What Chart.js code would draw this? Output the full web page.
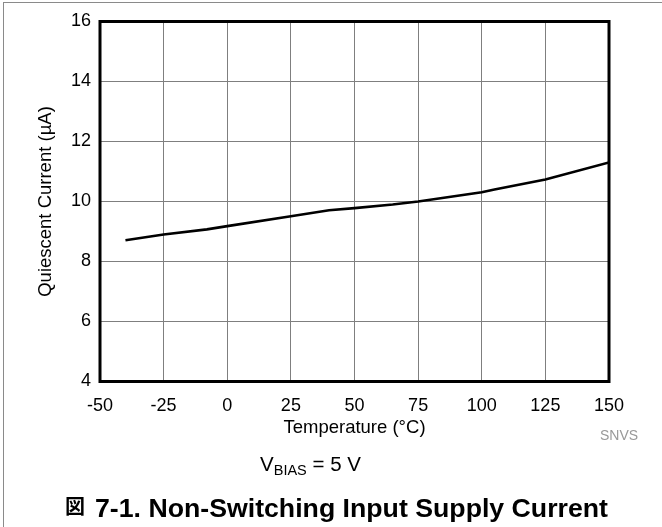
<!DOCTYPE html>
<html>
<head>
<meta charset="utf-8">
<script src="https://cdn.jsdelivr.net/npm/chart.js@4/dist/chart.umd.min.js"></script>
<style>
  html, body { margin: 0; padding: 0; background: #fff; }
  #wrap { position: relative; width: 662px; height: 527px; }
</style>
</head>
<body>
<div id="wrap"><canvas id="c" width="662" height="527"></canvas></div>
<script>
// ---- data ----
const temperatures = [-40, -25, -8, 0, 25, 40, 50, 65, 75, 100, 105, 125, 150];
const currents = [8.71, 8.90, 9.07, 9.18, 9.51, 9.71, 9.78, 9.90, 10.0, 10.31, 10.40, 10.73, 11.30];
const xTicks = [-50, -25, 0, 25, 50, 75, 100, 125, 150];
const yTicks = [4, 6, 8, 10, 12, 14, 16];
const xTitle = 'Temperature (°C)';
const yTitle = 'Quiescent Current (µA)';
const figLabel = '図';
const figTitle = '7-1. Non-Switching Input Supply Current';
const noteText = 'SNVS';

const FONT = '"Liberation Sans", Arial, Helvetica, sans-serif';
Chart.defaults.font.family = FONT;
Chart.defaults.color = '#000';

const points = temperatures.map((t, i) => ({ x: t, y: currents[i] }));

const extras = {
  id: 'extras',
  beforeDraw(chart) {
    const ctx = chart.ctx;
    ctx.save();
    ctx.fillStyle = '#fff';
    ctx.fillRect(0, 0, chart.width, chart.height);
    // outer gray frame
    ctx.strokeStyle = '#8a8a8a';
    ctx.lineWidth = 1;
    ctx.strokeRect(3.5, 2.5, chart.width + 10, chart.height + 10);
    ctx.restore();
  },
  afterDraw(chart) {
    const ctx = chart.ctx;
    const a = chart.chartArea;
    ctx.save();
    // plot frame
    ctx.strokeStyle = '#000';
    ctx.lineWidth = 3;
    ctx.strokeRect(a.left, a.top, a.right - a.left, a.bottom - a.top);

    // x title
    ctx.fillStyle = '#000';
    ctx.font = '18.5px ' + FONT;
    ctx.textAlign = 'center';
    ctx.textBaseline = 'alphabetic';
    ctx.fillText(xTitle, (a.left + a.right) / 2, 433);

    // y title
    ctx.save();
    ctx.translate(51, (a.top + a.bottom) / 2);
    ctx.rotate(-Math.PI / 2);
    ctx.textAlign = 'center';
    ctx.textBaseline = 'alphabetic';
    ctx.font = '18.5px ' + FONT;
    ctx.fillText(yTitle, 0, 0);
    ctx.restore();

    // SNVS note
    ctx.fillStyle = '#999';
    ctx.font = '14px ' + FONT;
    ctx.textAlign = 'center';
    ctx.fillText(noteText, 619, 440);

    // V_BIAS = 5 V
    ctx.fillStyle = '#000';
    ctx.textAlign = 'left';
    const big = '20.5px ' + FONT, small = '14.5px ' + FONT;
    ctx.font = big; const wV = ctx.measureText('V').width;
    ctx.font = small; const wB = ctx.measureText('BIAS').width;
    ctx.font = big; const wR = ctx.measureText(' = 5 V').width;
    let x0 = 310.5 - (wV + wB + wR) / 2;
    ctx.font = big; ctx.fillText('V', x0, 471);
    ctx.font = small; ctx.fillText('BIAS', x0 + wV, 475);
    ctx.font = big; ctx.fillText(' = 5 V', x0 + wV + wB, 471);

    // figure title
    ctx.font = 'bold 20px "Noto Sans CJK JP", ' + FONT;
    ctx.fillText(figLabel, 65, 514);
    ctx.font = 'bold 26.7px ' + FONT;
    ctx.fillText(figTitle, 95, 517);
    ctx.restore();
  }
};

new Chart(document.getElementById('c'), {
  type: 'line',
  data: {
    datasets: [{
      data: points,
      borderColor: '#000',
      borderWidth: 2.6,
      pointRadius: 0,
      tension: 0,
      fill: false
    }]
  },
  options: {
    responsive: false,
    animation: false,
    devicePixelRatio: 1,
    layout: { padding: { left: 0, top: 21.5, right: 53, bottom: 0 } },
    plugins: { legend: { display: false }, tooltip: { enabled: false }, title: { display: false } },
    scales: {
      x: {
        type: 'linear',
        min: xTicks[0], max: xTicks[xTicks.length - 1],
        afterBuildTicks(scale) { scale.ticks = xTicks.map(v => ({ value: v })); },
        afterFit(scale) { scale.height = 145.5; },
        grid: { color: '#7f7f7f', lineWidth: 1, drawTicks: false },
        border: { display: false },
        ticks: { font: { size: 18 }, padding: 14, maxRotation: 0, autoSkip: false, color: '#000' }
      },
      y: {
        type: 'linear',
        min: yTicks[0], max: yTicks[yTicks.length - 1],
        afterBuildTicks(scale) { scale.ticks = yTicks.map(v => ({ value: v })); },
        afterFit(scale) { scale.width = 100; },
        grid: { color: '#7f7f7f', lineWidth: 1, drawTicks: false },
        border: { display: false },
        ticks: { font: { size: 18 }, padding: 9, autoSkip: false, color: '#000' }
      }
    }
  },
  plugins: [extras]
});
</script>
</body>
</html>
